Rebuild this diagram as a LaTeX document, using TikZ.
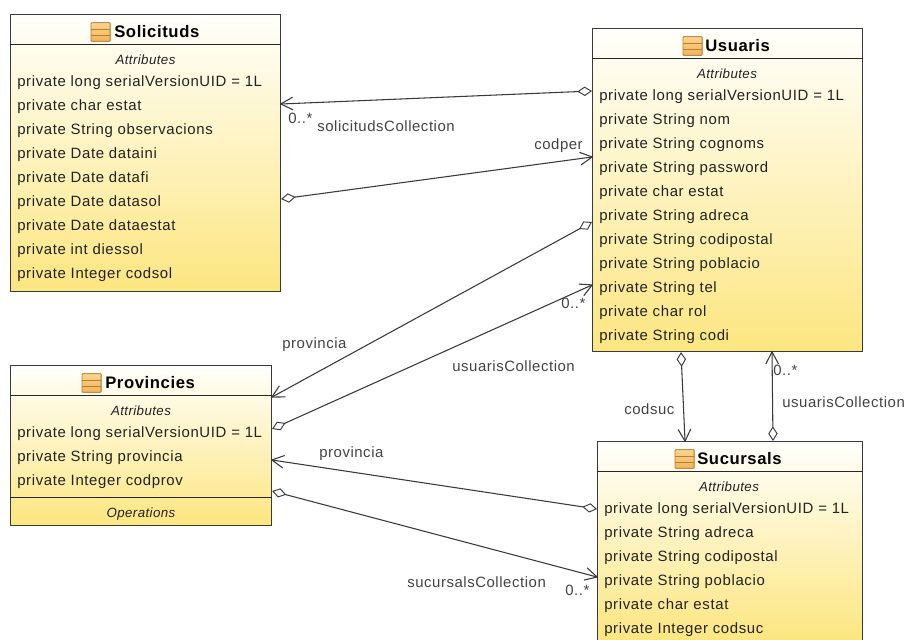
\documentclass[tikz,border=0pt]{standalone}
\usepackage{fontspec}
\setmainfont{Liberation Sans}
\newfontfamily\rowfont[LetterSpace=4.3]{Liberation Sans}
\newfontfamily\lblfont[LetterSpace=3.7]{Liberation Sans}
\newfontfamily\sectfont[LetterSpace=3.0]{Liberation Sans}
\newfontfamily\headfont[LetterSpace=3.6]{Liberation Sans}
\usetikzlibrary{arrows.meta,calc}
\definecolor{edge}{HTML}{3A3A3A}
\definecolor{ink}{HTML}{222222}
\definecolor{boxtop}{HTML}{FFFFFC}
\definecolor{boxbot}{HTML}{FCE680}
\definecolor{iconfill}{HTML}{F2B45C}
\definecolor{icontop}{HTML}{F8D590}
\definecolor{iconline}{HTML}{BE7C28}
\tikzset{
  x=0.75pt,y=-0.75pt,
  umlbox/.style={draw=edge,line width=0.8pt,anchor=north west,inner sep=0pt,top color=boxtop,bottom color=boxbot},
  rowtext/.style={anchor=west,inner sep=0pt,text=ink,font=\rowfont\fontsize{11.2}{13}\selectfont},
  lbl/.style={anchor=west,inner sep=0pt,text=ink!85,font=\lblfont\fontsize{11.2}{13}\selectfont},
  sect/.style={anchor=center,inner sep=0pt,text=ink,font=\sectfont\fontsize{10}{12}\selectfont\itshape},
  titletext/.style={anchor=west,inner sep=0pt,text=black,font=\headfont\fontsize{12.5}{14}\selectfont\bfseries},
  divider/.style={draw=black!85,line width=0.7pt},
  assoc/.style={draw=edge,line width=0.8pt,shorten >=-1pt,
    {Diamond[open,fill=white,length=11pt,width=7pt,line width=0.7pt]}-{Straight Barb[length=9pt,width=9.5pt,line width=0.8pt]}},
  iconbox/.style={draw=none,inner sep=0pt,minimum width=14pt,minimum height=13.5pt}
}
\newcommand{\umlicon}[2]{%
  \node[iconbox,anchor=west] (#1) at (#2) {};
  \fill[rounded corners=0.6pt,draw=iconline,line width=0.7pt,top color=icontop,bottom color=iconfill]
    (#1.south west) rectangle (#1.north east);
  \foreach \f in {0.33,0.66}{\draw[iconline,line width=0.7pt] ($(#1.south west)!\f!(#1.north west)$) -- ($(#1.south east)!\f!(#1.north east)$);}
}
\begin{document}
\begin{tikzpicture}
\useasboundingbox (0,0) rectangle (906,639);
\clip (0,0) rectangle (906,639);
\fill[white] (0,0) rectangle (906,639);
% boxes
\node[umlbox,minimum width=202.5pt,minimum height=207.75pt] (sol) at (10,14) {};
\node[umlbox,minimum width=202.5pt,minimum height=242.25pt] (usu) at (592,28) {};
\node[umlbox,minimum width=195.75pt,minimum height=120pt] (pro) at (10,365) {};
\node[umlbox,minimum width=198.75pt,minimum height=150pt] (suc) at (597,441) {};
% dividers
\draw[divider] ($(sol.north west)+(0,30)$) -- ($(sol.north east)+(0,30)$);
\draw[divider] ($(usu.north west)+(0,30)$) -- ($(usu.north east)+(0,30)$);
\draw[divider] ($(pro.north west)+(0,30)$) -- ($(pro.north east)+(0,30)$);
\draw[divider] ($(pro.north west)+(0,132)$) -- ($(pro.north east)+(0,132)$);
\draw[divider] ($(suc.north west)+(0,30)$) -- ($(suc.north east)+(0,30)$);
% titles
\umlicon{icsol}{91,32}
\node[titletext] (tsol) at (114,32) {Solicituds};
\umlicon{icusu}{683,46}
\node[titletext] (tusu) at (705,46) {Usuaris};
\umlicon{icpro}{82,383}
\node[titletext] (tpro) at (105,383) {Provincies};
\umlicon{icsuc}{675,459}
\node[titletext] (tsuc) at (697,459) {Sucursals};
% section captions
\node[sect] (asol) at (145.5,60) {Attributes};
\node[sect] (ausu) at (727,74) {Attributes};
\node[sect] (apro) at (141,411) {Attributes};
\node[sect] (opro) at (141,514) {Operations};
\node[sect] (asuc) at (729,487) {Attributes};
% rows
\foreach \t [count=\i] in {private long serialVersionUID = 1L,private char estat,private String observacions,private Date dataini,private Date datafi,private Date datasol,private Date dataestat,private int diessol,private Integer codsol}
  \node[rowtext] (rsol\i) at (17,{58.5+24*\i}) {\t};
\foreach \t [count=\i] in {private long serialVersionUID = 1L,private String nom,private String cognoms,private String password,private char estat,private String adreca,private String codipostal,private String poblacio,private String tel,private char rol,private String codi}
  \node[rowtext] (rusu\i) at (599,{72.5+24*\i}) {\t};
\foreach \t [count=\i] in {private long serialVersionUID = 1L,private String provincia,private Integer codprov}
  \node[rowtext] (rpro\i) at (17,{409.5+24*\i}) {\t};
\foreach \t [count=\i] in {private long serialVersionUID = 1L,private String adreca,private String codipostal,private String poblacio,private char estat,private Integer codsuc}
  \node[rowtext] (rsuc\i) at (604,{485.5+24*\i}) {\t};
% connectors (diamond end first, arrow end last)
\draw[assoc] ($(usu.north west)+(0,63)$) -- ($(sol.north east)+(0,90)$);
\draw[assoc] ($(sol.north east)+(0,185)$) -- ($(usu.north west)+(0,129)$);
\draw[assoc] ($(usu.north west)+(0,194)$) -- ($(pro.north east)+(0,32)$);
\draw[assoc] ($(pro.north east)+(0,64)$) -- ($(usu.north west)+(0,257)$);
\draw[assoc] ($(suc.north west)+(0,68)$) -- ($(pro.north east)+(0,95)$);
\draw[assoc] ($(pro.north east)+(0,126)$) -- ($(suc.north west)+(0,136)$);
\draw[assoc] ($(usu.south west)+(89,0)$) -- ($(suc.north west)+(88,0)$);
\draw[assoc] ($(suc.north west)+(176,0)$) -- ($(usu.south west)+(180,0)$);
% labels
\node[lbl] (l1) at (288,118) {0..*};
\node[lbl] (l2) at (317,126) {solicitudsCollection};
\node[lbl] (l3) at (534,146) {codper};
\node[lbl] (l4) at (282,345) {provincia};
\node[lbl] (l5) at (561,303) {0..*};
\node[lbl] (l6) at (452,366) {usuarisCollection};
\node[lbl] (l7) at (319,454) {provincia};
\node[lbl] (l8) at (407,582) {sucursalsCollection};
\node[lbl] (l9) at (565,590) {0..*};
\node[lbl] (l10) at (624,409) {codsuc};
\node[lbl] (l11) at (773,370) {0..*};
\node[lbl] (l12) at (782,402) {usuarisCollection};
\end{tikzpicture}
\end{document}
